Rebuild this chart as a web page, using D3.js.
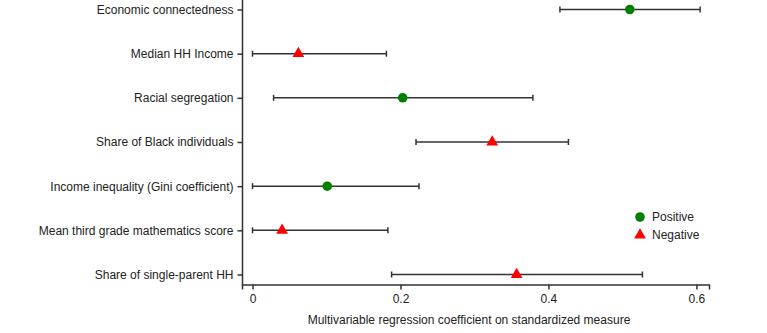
<!DOCTYPE html>
<html><head><meta charset="utf-8">
<script src="https://cdn.jsdelivr.net/npm/d3@7"></script>
<style>body{margin:0;background:#fff;} text{font-family:"Liberation Sans",Arial,sans-serif;}</style>
</head><body><svg id="c" width="767" height="333"></svg>
<script>
const categories = ["Economic connectedness","Median HH Income","Racial segregation","Share of Black individuals","Income inequality (Gini coefficient)","Mean third grade mathematics score","Share of single-parent HH"];
const estimates = [0.510, 0.062, 0.203, 0.324, 0.101, 0.040, 0.357];
const lower = [0.4155, 0.0, 0.0285, 0.221, 0.0, 0.0, 0.188];
const upper = [0.605, 0.181, 0.379, 0.427, 0.225, 0.183, 0.527];
const signs = ["Positive","Negative","Positive","Negative","Positive","Negative","Negative"];
const xTicks = [0, 0.2, 0.4, 0.6];
const xLabel = "Multivariable regression coefficient on standardized measure";
const legendItems = ["Positive","Negative"];

const svg = d3.select("#c");
const x = d3.scaleLinear().domain([-0.0142, 0.617]).range([242, 709]);
const y = d3.scalePoint().domain(categories).range([9.5, 274.5]);
const ink = "#333";
const txt = "#222";
const fs = "12px";

// x axis
const xa = svg.append("g").attr("transform","translate(0,284.5)")
  .call(d3.axisBottom(x).tickValues(xTicks).tickFormat(d3.format("~g")).tickSizeOuter(0).tickSize(5).tickPadding(5));
xa.select(".domain").attr("stroke", ink).attr("stroke-width",1.5);
xa.selectAll(".tick line").attr("stroke", ink).attr("stroke-width",1.5);
xa.selectAll(".tick text").attr("fill", txt).style("font-size",fs);

// y axis
const ya = svg.append("g").attr("transform","translate(242.5,0)")
  .call(d3.axisLeft(y).tickSize(5).tickPadding(4).tickSizeOuter(0));
ya.select(".domain").remove();
ya.selectAll(".tick line").attr("stroke", ink).attr("stroke-width",1.5);
ya.selectAll(".tick text").attr("fill", txt).style("font-size",fs);
svg.append("line").attr("x1",242.5).attr("x2",242.5).attr("y1",0).attr("y2",285.2)
  .attr("stroke",ink).attr("stroke-width",1.5);

// axis label
svg.append("text").attr("x", 469).attr("y", 324)
  .attr("text-anchor","middle").attr("fill",txt).style("font-size",fs).text(xLabel);

const rows = categories.map((c,i)=>({c, est:estimates[i], lo:lower[i], hi:upper[i], s:signs[i]}));
const g = svg.append("g");
const cap = 3;
rows.forEach(r=>{
  const yy = y(r.c);
  g.append("line").attr("x1",x(r.lo)).attr("x2",x(r.hi)).attr("y1",yy).attr("y2",yy).attr("stroke",ink).attr("stroke-width",1.5);
  [r.lo, r.hi].forEach(v=>g.append("line").attr("x1",x(v)).attr("x2",x(v)).attr("y1",yy-cap).attr("y2",yy+cap).attr("stroke",ink).attr("stroke-width",1.5));
});
const circleSym = d3.symbol().type(d3.symbolCircle).size(72);
const triSym = d3.symbol().type(d3.symbolTriangle).size(60);
function marker(sel, s){
  if (s === "Positive") sel.attr("d", circleSym).attr("fill","#008000");
  else sel.attr("d", triSym).attr("fill","#ff0000");
}
rows.forEach(r=>{
  const p = g.append("path").attr("transform",`translate(${x(r.est)},${y(r.c)})`);
  marker(p, r.s);
});

// legend
const leg = svg.append("g").attr("transform","translate(640,217)");
legendItems.forEach((s,i)=>{
  const p = leg.append("path").attr("transform",`translate(0,${i*18})`);
  marker(p, s);
  leg.append("text").attr("x",12).attr("y",i*18).attr("dy","0.35em").attr("fill",txt).style("font-size",fs).text(s);
});
</script></body></html>
